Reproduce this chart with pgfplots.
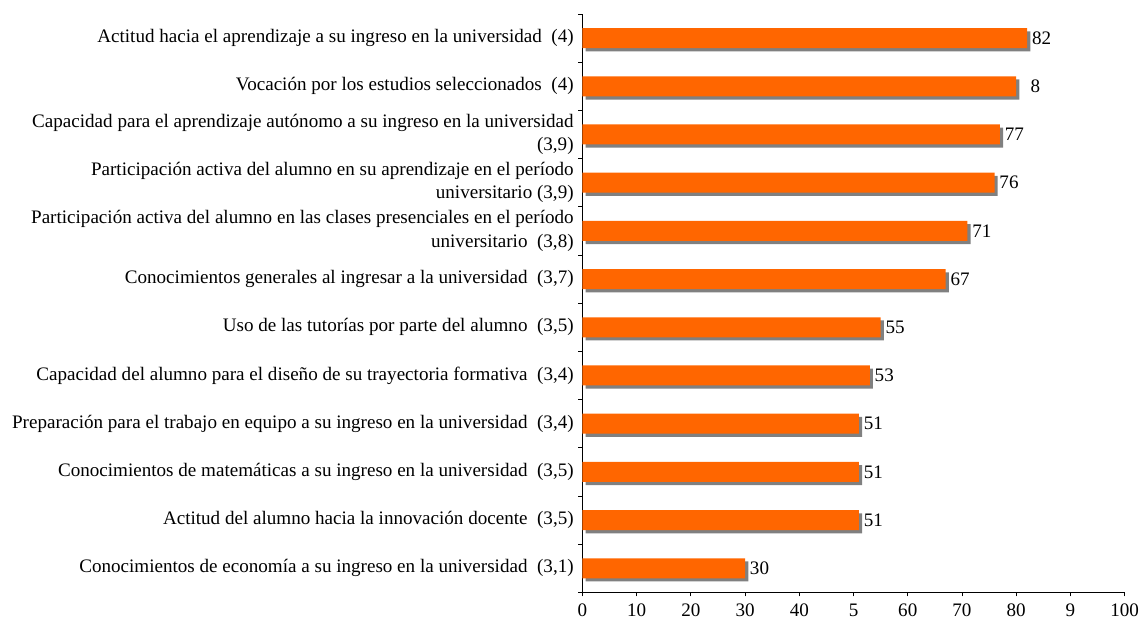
\documentclass[border=0pt]{standalone}
\usepackage{pgfplots}
\pgfplotsset{compat=1.18}
\usepackage{pgfplotstable}
\usepackage{fontspec}
\setmainfont{Liberation Serif}
\definecolor{barorange}{HTML}{FF6600}
\definecolor{shadowgray}{HTML}{808080}
\pgfplotstableread{
y val lab
12 82 82
11 80 {\hphantom{0}8}
10 77 77
9 76 76
8 71 71
7 67 67
6 55 55
5 53 53
4 51 51
3 51 51
2 51 51
1 30 30
}\datatab
\begin{document}
\begin{tikzpicture}
\begin{axis}[
  scale only axis,
  width=406.5pt, height=433.5pt,
  xbar, bar width=15pt, bar shift=0pt,
  xmin=0, xmax=100,
  ymin=0.5, ymax=12.5,
  axis lines*=left,
  axis line style={black, line width=0.6pt},
  tick align=outside,
  major tick length=3pt,
  tick style={black, line width=0.6pt},
  xtick={0,10,...,100},
  xticklabels={0,10,20,30,40,5,60,70,80,9,100},
  ytick={0.5,1.5,...,12.5},
  yticklabels={},
  extra y ticks={1,2,...,12},
  extra y tick style={tick style={draw=none}, yticklabel style={align=right, font=\fontsize{14.3}{17.5}\selectfont}},
  extra y tick labels={
    {Conocimientos de economía a su ingreso en la universidad\ ~(3,1)},
    {Actitud del alumno hacia la innovación docente\ ~(3,5)},
    {Conocimientos de matemáticas a su ingreso en la universidad\ ~(3,5)},
    {Preparación para el trabajo en equipo a su ingreso en la universidad\ ~(3,4)},
    {Capacidad del alumno para el diseño de su trayectoria formativa\ ~(3,4)},
    {Uso de las tutorías por parte del alumno\ ~(3,5)},
    {Conocimientos generales al ingresar a la universidad\ ~(3,7)},
    {Participación activa del alumno en las clases presenciales en el período\\universitario\ ~(3,8)},
    {Participación activa del alumno en su aprendizaje en el período\\universitario (3,9)},
    {Capacidad para el aprendizaje autónomo a su ingreso en la universidad\\(3,9)},
    {Vocación por los estudios seleccionados\ ~(4)},
    {Actitud hacia el aprendizaje a su ingreso en la universidad\ ~(4)}
  },
  tick label style={font=\fontsize{14.3}{17.5}\selectfont},
  xticklabel style={yshift=-2pt, inner xsep=0pt},
  nodes near coords style={font=\fontsize{14.3}{17.5}\selectfont, anchor=west, inner sep=1pt, xshift=2.5pt},
]
\addplot[xbar, bar shift=0pt, fill=shadowgray, draw=none, xshift=2.4pt, yshift=-2.4pt] table[x=val, y=y] {\datatab};
\addplot[xbar, bar shift=0pt, fill=barorange, draw=none,
  point meta=explicit symbolic, nodes near coords] table[x=val, y=y, meta=lab] {\datatab};
\end{axis}
\path ([shift={(-436.5pt,-23.25pt)}]current axis.south west) rectangle ([shift={(0pt,10.5pt)}]current axis.north east);
\end{tikzpicture}
\end{document}
